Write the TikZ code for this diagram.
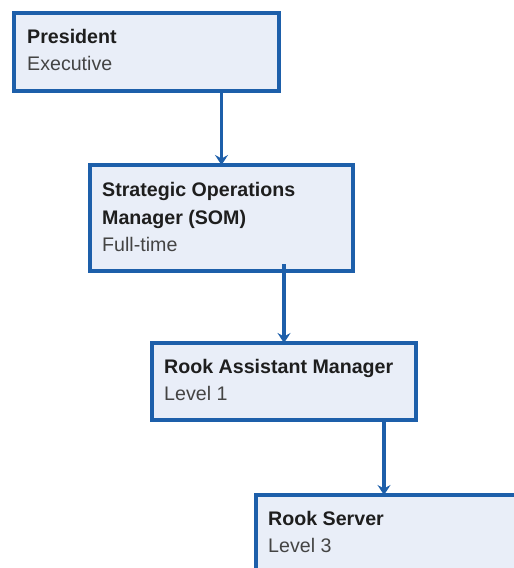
\documentclass[tikz,border=0pt]{standalone}
\usepackage{fontspec}
\setmainfont{Liberation Sans}
\usetikzlibrary{arrows.meta,calc}
\definecolor{boxblue}{HTML}{1D5FAA}
\definecolor{boxfill}{HTML}{E9EEF8}
\definecolor{titlecol}{HTML}{1E1E1E}
\definecolor{subcol}{HTML}{444444}
\begin{document}
\begin{tikzpicture}[x=1bp,y=-1bp,
 orgbox/.style={draw=boxblue, fill=boxfill, line width=3.5bp, rectangle, inner sep=0pt, outer sep=0pt, anchor=north west},
 titletext/.style={anchor=base west, inner sep=0pt, font=\fontsize{19.7}{24}\selectfont\bfseries, text=titlecol},
 subtext/.style={anchor=base west, inner sep=0pt, font=\fontsize{19.7}{24}\selectfont, text=subcol},
 link/.style={draw=boxblue, line width=3.5bp, -{Stealth[length=10bp,width=13bp,inset=3.5bp]}}]
\useasboundingbox (0,0) rectangle (514,568);
\clip (0,0) rectangle (514,568);
% boxes
\node[orgbox, minimum width=265bp, minimum height=78bp] (pres) at (14,13) {};
\node[orgbox, minimum width=263bp, minimum height=106bp] (som) at (90,165) {};
\node[orgbox, minimum width=264bp, minimum height=77bp] (ram) at (152,343) {};
\node[orgbox, minimum width=270bp, minimum height=110bp] (srv) at (256,495) {};
% texts
\node[titletext] (presT) at (27,44) {President};
\node[subtext] (presS) at (27,71) {Executive};
\node[titletext] (somT1) at (102,196) {Strategic Operations};
\node[titletext] (somT2) at (102,224) {Manager (SOM)};
\node[subtext] (somS) at (102,251.5) {Full-time};
\node[titletext] (ramT) at (164,373) {Rook Assistant Manager};
\node[subtext] (ramS) at (164,400) {Level 1};
\node[titletext] (srvT) at (268,525) {Rook Server};
\node[subtext] (srvS) at (268,552) {Level 3};
% connectors
\coordinate (a2s) at ($(ram.north |- som.south)+(0,-7)$);
\coordinate (srvin) at (384,495);
\draw[link] (som.north |- pres.south) -- (som.north);
\draw[link] (a2s) -- (ram.north);
\draw[link] (ram.south -| srvin) -- (srvin);
\end{tikzpicture}
\end{document}
